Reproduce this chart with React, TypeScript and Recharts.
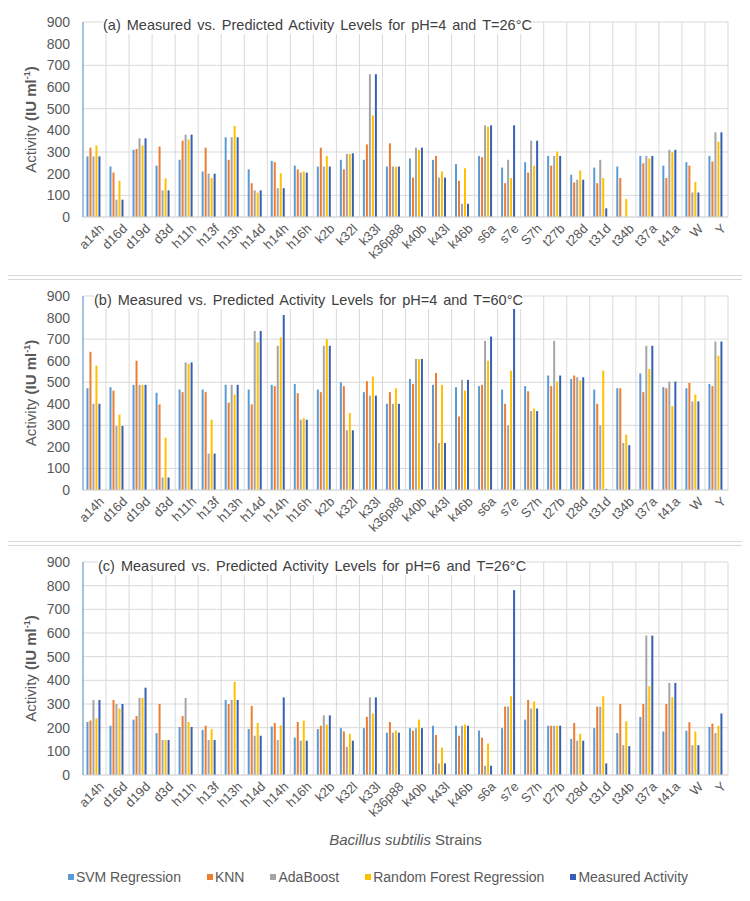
import { Bar, BarChart, CartesianGrid, Legend, XAxis, YAxis } from "recharts";

const strains = [
  "a14h", "d16d", "d19d", "d3d", "h11h", "h13f", "h13h", "h14d", "h14h", "h16h",
  "k2b", "k32l", "k33l", "k36p88", "k40b", "k43l", "k46b", "s6a", "s7e", "S7h",
  "t27b", "t28d", "t31d", "t34b", "t37a", "t41a", "W", "Y",
];

const seriesKeys = ["svm", "knn", "ada", "rf", "meas"];
const seriesNames = ["SVM Regression", "KNN", "AdaBoost", "Random Forest Regression", "Measured Activity"];
const seriesColors = ["#5B9BD5", "#ED7D31", "#A5A5A5", "#FFC000", "#3560B5"];
const yTicks = [0, 100, 200, 300, 400, 500, 600, 700, 800, 900];

// (a) pH=4, T=26°C
const svmA = [280, 233, 310, 237, 264, 210, 368, 220, 259, 237, 233, 264, 264, 233, 270, 264, 244, 282, 228, 253, 282, 195, 228, 233, 282, 237, 253, 282];
const knnA = [320, 205, 314, 325, 352, 320, 264, 156, 253, 220, 320, 220, 335, 340, 182, 282, 167, 276, 156, 205, 237, 160, 156, 180, 248, 180, 237, 256];
const adaA = [280, 80, 363, 123, 380, 200, 368, 123, 133, 205, 233, 291, 659, 233, 320, 182, 61, 423, 264, 352, 282, 172, 264, 0, 282, 310, 113, 391];
const rfA = [330, 167, 330, 178, 358, 180, 420, 113, 202, 210, 282, 291, 469, 233, 310, 210, 225, 417, 180, 237, 302, 215, 180, 83, 270, 299, 162, 348];
const measA = [280, 80, 363, 123, 380, 200, 368, 123, 133, 205, 233, 294, 659, 233, 320, 182, 61, 423, 423, 352, 282, 172, 40, 0, 282, 310, 113, 391];

// (b) pH=4, T=60°C
const svmB = [472, 477, 488, 451, 466, 466, 488, 466, 488, 492, 466, 500, 454, 400, 515, 488, 477, 482, 466, 482, 531, 515, 466, 472, 541, 477, 472, 492];
const knnB = [641, 461, 600, 397, 454, 454, 405, 397, 482, 449, 454, 482, 505, 454, 492, 543, 341, 488, 400, 458, 482, 531, 400, 472, 454, 472, 497, 482];
const adaB = [400, 297, 488, 58, 592, 169, 488, 738, 669, 326, 669, 277, 438, 400, 608, 218, 511, 692, 300, 366, 692, 523, 300, 218, 669, 503, 411, 689];
const rfB = [577, 350, 488, 243, 585, 326, 443, 685, 708, 334, 700, 357, 526, 472, 608, 488, 461, 600, 554, 377, 503, 508, 554, 257, 561, 389, 443, 623];
const measB = [400, 297, 488, 58, 592, 169, 488, 738, 812, 326, 669, 277, 438, 400, 608, 218, 511, 712, 892, 366, 531, 523, 5, 208, 669, 503, 411, 689];

// (c) pH=6, T=26°C
const svmC = [224, 208, 234, 177, 203, 191, 317, 194, 205, 158, 194, 198, 198, 179, 198, 208, 208, 188, 198, 234, 208, 152, 198, 177, 245, 184, 187, 203];
const knnC = [230, 317, 249, 300, 249, 208, 300, 292, 220, 224, 208, 184, 246, 224, 187, 169, 166, 158, 289, 317, 208, 220, 289, 300, 300, 300, 223, 217];
const adaC = [317, 300, 326, 148, 326, 148, 317, 166, 148, 145, 252, 119, 328, 179, 198, 49, 208, 39, 289, 281, 208, 145, 289, 126, 589, 389, 126, 177];
const rfC = [239, 281, 326, 148, 224, 194, 394, 220, 210, 230, 213, 174, 260, 188, 234, 116, 213, 133, 333, 311, 208, 174, 333, 227, 375, 328, 184, 208];
const measC = [317, 300, 369, 148, 203, 148, 317, 166, 328, 145, 252, 145, 328, 179, 198, 49, 208, 39, 781, 281, 208, 145, 49, 122, 589, 389, 126, 260];

const buildRows = (cols: number[][]) =>
  strains.map((name, i) => {
    const row: Record<string, any> = { name };
    seriesKeys.forEach((k, j) => (row[k] = cols[j][i]));
    return row;
  });

const font = "'Liberation Sans', Arial, sans-serif";
const textColor = "#595959";

const StrainTick = ({ x, y, payload }: any) => (
  <g transform={`translate(${x + 4},${y - 2}) rotate(-45)`}>
    <text x={0} y={0} dy="0.7em" textAnchor="end" fontSize={13} fill={textColor} fontFamily={font}>
      {payload.value}
    </text>
  </g>
);

const YTitle = ({ viewBox }: any) => {
  const cx = 30;
  const cy = viewBox.y + viewBox.height / 2;
  return (
    <text
      x={cx}
      y={cy}
      transform={`rotate(-90, ${cx}, ${cy})`}
      textAnchor="middle"
      fontSize={15}
      fill={textColor}
      fontFamily={font}
    >
      Activity{" "}
      <tspan fontWeight="bold">(IU ml</tspan>
      <tspan fontWeight="bold" fontSize={9} dy={-6}>-1</tspan>
      <tspan fontWeight="bold" dy={6}>)</tspan>
    </text>
  );
};

const XTitle = ({ viewBox }: any) => (
  <text
    x={viewBox.x + viewBox.width / 2}
    y={viewBox.y + 70}
    textAnchor="middle"
    fontSize={15}
    fill={textColor}
    fontFamily={font}
  >
    <tspan fontStyle="italic">Bacillus subtilis</tspan> Strains
  </text>
);

const LegendRow = () => (
  <div
    style={{
      display: "flex",
      justifyContent: "center",
      gap: 26,
      paddingLeft: 22,
      fontSize: 14,
      color: textColor,
      fontFamily: font,
    }}
  >
    {seriesNames.map((n, i) => (
      <span key={n} style={{ display: "flex", alignItems: "center" }}>
        <span style={{ width: 6, height: 6, background: seriesColors[i], marginRight: 2, display: "inline-block" }} />
        {n}
      </span>
    ))}
  </div>
);

const boundaryLines = ({ offset }: any) =>
  Array.from({ length: strains.length + 1 }, (_, i) => offset.left + (i * offset.width) / strains.length);

interface PanelProps {
  cols: number[][];
  title: string;
  top: number;
  height: number;
  marginTop: number;
  marginBottom: number;
  xHeight: number;
  titleLeft: number;
  footer?: boolean;
}

const Panel = ({ cols, title, top, height, marginTop, marginBottom, xHeight, titleLeft, footer }: PanelProps) => (
  <div
    style={{
      position: "absolute",
      left: 5,
      top,
      width: 740,
      height,
      border: "1px solid #d9d9d9",
      boxSizing: "border-box",
      background: "#fff",
    }}
  >
    <BarChart
      width={738}
      height={height - 2}
      data={buildRows(cols)}
      margin={{ top: marginTop, right: 16, left: 0, bottom: marginBottom }}
      barCategoryGap="15%"
      barGap={1}
    >
      <CartesianGrid stroke="#d9d9d9" verticalCoordinatesGenerator={boundaryLines} />
      <XAxis
        dataKey="name"
        interval={0}
        tick={<StrainTick />}
        tickLine={false}
        axisLine={{ stroke: "#d9d9d9" }}
        height={xHeight}
        label={footer ? <XTitle /> : undefined}
      />
      <YAxis
        domain={[0, 900]}
        ticks={yTicks}
        width={77}
        tickLine={false}
        tickMargin={7}
        tick={{ fontSize: 14, fill: textColor, fontFamily: font }}
        axisLine={{ stroke: "#5B9BD5" }}
        label={<YTitle />}
      />
      {seriesKeys.map((k, i) => (
        <Bar key={k} dataKey={k} name={seriesNames[i]} fill={seriesColors[i]} isAnimationActive={false} />
      ))}
      {footer && <Legend verticalAlign="bottom" content={<LegendRow />} />}
    </BarChart>
    <div
      style={{
        position: "absolute",
        left: titleLeft,
        top: 11,
        background: "#fff",
        fontSize: 14.5,
        lineHeight: "18px",
        wordSpacing: 2,
        color: "#404040",
        fontFamily: font,
        whiteSpace: "nowrap",
      }}
    >
      {title}
    </div>
  </div>
);

export default function App() {
  return (
    <div style={{ position: "relative", width: 750, height: 901, margin: -8, background: "#fff" }}>
      <Panel
        cols={[svmA, knnA, adaA, rfA, measA]}
        title="(a) Measured vs. Predicted Activity Levels for pH=4 and T=26°C"
        top={4}
        height={272}
        marginTop={17}
        marginBottom={6}
        xHeight={52}
        titleLeft={97}
      />
      <Panel
        cols={[svmB, knnB, adaB, rfB, measB]}
        title="(b) Measured vs. Predicted Activity Levels for pH=4 and T=60°C"
        top={279}
        height={263}
        marginTop={16}
        marginBottom={5}
        xHeight={46}
        titleLeft={88}
      />
      <Panel
        cols={[svmC, knnC, adaC, rfC, measC]}
        title="(c) Measured vs. Predicted Activity Levels for pH=6 and T=26°C"
        top={545}
        height={353}
        marginTop={16}
        marginBottom={12}
        xHeight={94}
        titleLeft={92}
        footer
      />
    </div>
  );
}
